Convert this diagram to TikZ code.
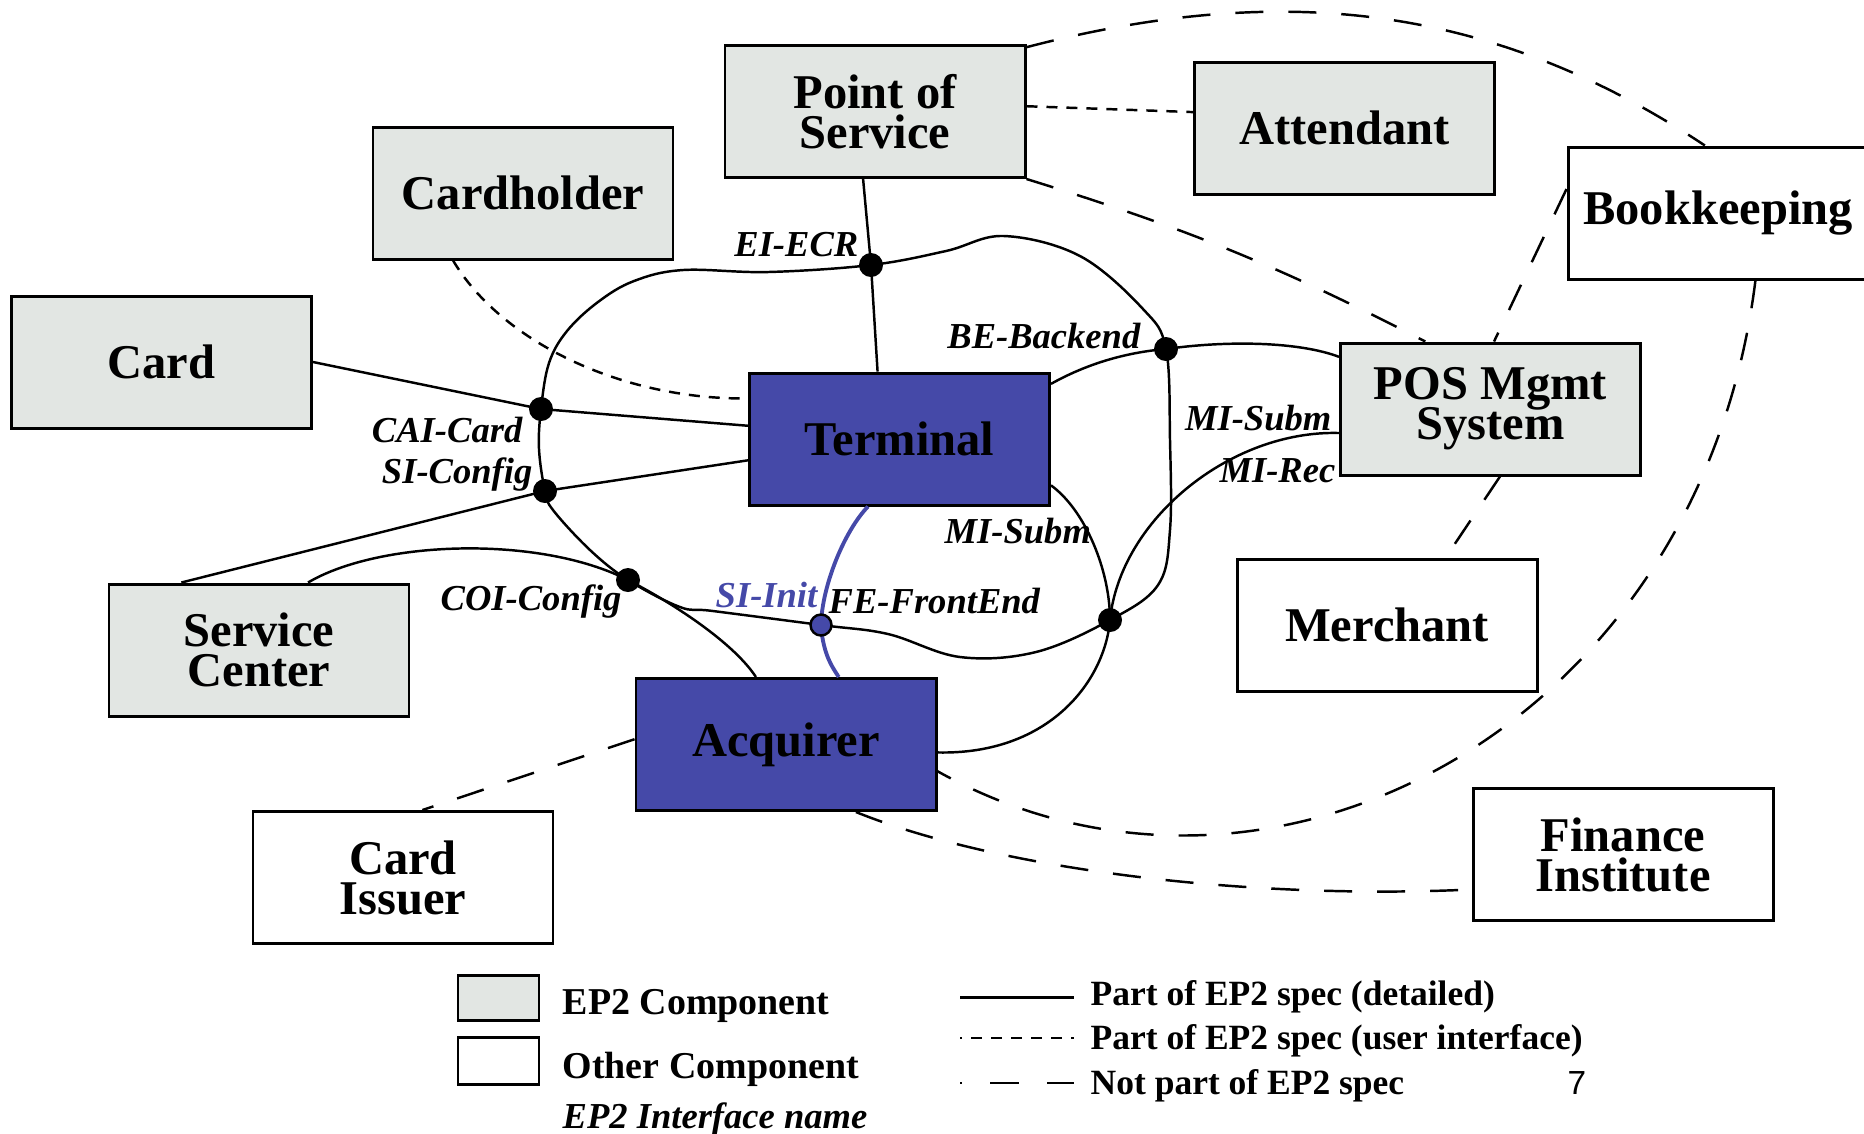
\documentclass[tikz,border=0pt]{standalone}
\usepackage{fontspec}
\setmainfont{Liberation Serif}
\setsansfont{Liberation Sans}
\setlength{\lineskiplimit}{-20pt}

\definecolor{epgray}{HTML}{E2E6E3}
\definecolor{epblue}{HTML}{4549A8}

\tikzset{
  comp/.style={draw=black, line width=0.85pt, minimum width=3cm, minimum height=1.32cm, inner sep=0pt, align=center,
    font=\fontsize{13.8}{11.4}\selectfont\bfseries},
  ep2box/.style={comp, fill=epgray},
  corebox/.style={comp, fill=epblue},
  otherbox/.style={comp, fill=white},
  iface/.style={circle, fill=black, inner sep=0pt, minimum size=0.24cm},
  initdot/.style={circle, fill=epblue, draw=black, line width=0.7pt, inner sep=0pt, minimum size=0.21cm},
  ifacelbl/.style={inner sep=0pt, font=\fontsize{10.4}{12}\selectfont\bfseries\itshape},
  legtxt/.style={inner sep=0pt, font=\fontsize{10.8}{12}\selectfont\bfseries},
  legrtxt/.style={inner sep=0pt, font=\fontsize{10.1}{12}\selectfont\bfseries},
  spec/.style={line width=0.7pt},
  initline/.style={line width=1.1pt, draw=epblue},
  userif/.style={line width=0.7pt, dash pattern=on 0.11cm off 0.09cm},
  notspec/.style={line width=0.7pt, dash pattern=on 0.28cm off 0.25cm},
}

\begin{document}
\begin{tikzpicture}
            \useasboundingbox (0,0) rectangle (18.64,-11.33);
            \node[ep2box] (pos) at (8.75,-1.115) {Point of\\Service};
            \node[ep2box] (att) at (13.445,-1.28) {Attendant};
            \node[ep2box] (chold) at (5.23,-1.93) {Cardholder};
            \node[otherbox] (book) at (17.18,-2.13) {Bookkeeping};
            \node[ep2box] (card) at (1.615,-3.62) {Card};
            \node[corebox] (term) at (8.995,-4.39) {Terminal};
            \node[ep2box] (posm) at (14.905,-4.09) {POS Mgmt\\System};
            \node[ep2box] (svc) at (2.59,-6.50) {Service\\Center};
            \node[otherbox] (merch) at (13.87,-6.25) {Merchant};
            \node[corebox] (acq) at (7.86,-7.445) {Acquirer};
            \node[otherbox] (iss) at (4.03,-8.775) {Card\\Issuer};
            \node[otherbox] (fin) at (16.23,-8.545) {Finance\\Institute};

            \coordinate (ei) at (8.71,-2.65);
            \coordinate (be) at (11.66,-3.49);
            \coordinate (cai) at (5.41,-4.09);
            \coordinate (sic) at (5.45,-4.91);
            \coordinate (coi) at (6.28,-5.80);
            \coordinate (sii) at (8.21,-6.25);
            \coordinate (fe) at (11.10,-6.20);

            \draw[spec] plot[smooth cycle, tension=0.6] coordinates {(ei) (9.46,-2.51) (10.04,-2.36) (10.80,-2.56) (11.43,-3.09) (be)
              (11.70,-4.40) (11.70,-5.30) (11.58,-5.85) (fe) (10.36,-6.52) (9.60,-6.57) (8.88,-6.34) (sii) (7.13,-6.11) (6.80,-6.07)
              (coi) (5.90,-5.50) (5.53,-5.10) (sic) (5.39,-4.49) (cai) (5.49,-3.63) (5.67,-3.31) (5.98,-3.02) (6.34,-2.81) (6.83,-2.70) (7.68,-2.72)};

            \draw[spec] (pos.-100) -- (ei) -- (term.108);
            \draw[spec] (card.east) -- (cai) -- (term.175);
            \draw[spec] (svc.139) -- (sic) -- (term.188);
            \draw[spec] (svc.54) .. controls (3.80,-5.40) and (5.40,-5.35) .. (coi) .. controls (6.80,-6.07) and (7.35,-6.45) .. (acq.114);
            \draw[initline] (term.-115) .. controls (8.45,-5.30) and (8.22,-5.85) .. (sii) .. controls (8.23,-6.55) and (8.33,-6.68) .. (acq.52);
            \draw[spec] (term.20) .. controls (10.90,-3.62) and (11.30,-3.52) .. (be) .. controls (12.30,-3.40) and (13.00,-3.42) .. (posm.161);
            \draw[spec] (term.-17) .. controls (10.85,-5.10) and (11.10,-5.70) .. (fe) .. controls (11.05,-6.80) and (10.50,-7.55) .. (acq.-3);
            \draw[spec] (posm.189) .. controls (12.30,-4.30) and (11.20,-5.20) .. (fe);

            \draw[userif] (pos.2) -- (att.174);
            \draw[userif] (chold.-136) .. controls (5.00,-3.40) and (6.20,-4.00) .. (term.165);
            \draw[notspec] (pos.23) .. controls (12.77,0.18) and (14.89,-0.02) .. (book.101);
            \draw[notspec] (pos.south east) to[bend left=5] (posm.134);
            \draw[notspec] (book.171) -- (posm.87);
            \draw[notspec] (posm.-82) -- (merch.49);
            \draw[notspec] (book.-61) .. controls (17.00,-7.27) and (12.68,-9.56) .. (acq.-10);
            \draw[notspec] (acq.-44) .. controls (10.00,-8.70) and (12.50,-9.00) .. (fin.193);
            \draw[notspec] (acq.178) -- (iss.74);

            \node[iface] (eidot) at (ei) {};
            \node[iface] (bedot) at (be) {};
            \node[iface] (caidot) at (cai) {};
            \node[iface] (sicdot) at (sic) {};
            \node[iface] (coidot) at (coi) {};
            \node[iface] (fedot) at (fe) {};
            \node[initdot] (siidot) at (sii) {};

            \node[ifacelbl, anchor=base east] (eilbl) at (8.59,-2.56) {EI-ECR};
            \node[ifacelbl, anchor=base east] (belbl) at (11.41,-3.48) {BE-Backend};
            \node[ifacelbl, anchor=base east] (cailbl) at (5.23,-4.42) {CAI-Card};
            \node[ifacelbl, anchor=base east] (siclbl) at (5.33,-4.83) {SI-Config};
            \node[ifacelbl, anchor=base west] (coilbl) at (4.40,-6.10) {COI-Config};
            \node[ifacelbl, anchor=base east, text=epblue] (siilbl) at (8.18,-6.07) {SI-Init};
            \node[ifacelbl, anchor=base west] (felbl) at (8.28,-6.13) {FE-FrontEnd};
            \node[ifacelbl, anchor=base west] (mislbl) at (9.44,-5.43) {MI-Subm};
            \node[ifacelbl, anchor=base east] (mipslbl) at (13.32,-4.30) {MI-Subm};
            \node[ifacelbl, anchor=base east] (mirlbl) at (13.36,-4.82) {MI-Rec};

            \node[ep2box, minimum width=0.81cm, minimum height=0.45cm] (lgep2) at (4.985,-9.975) {};
            \node[otherbox, minimum width=0.81cm, minimum height=0.47cm] (lgother) at (4.985,-10.605) {};
            \node[legtxt, anchor=base west] (lgep2txt) at (5.62,-10.145) {EP2 Component};
            \node[legtxt, anchor=base west] (lgothertxt) at (5.62,-10.78) {Other Component};
            \node[ifacelbl, anchor=base west] (lgiftxt) at (5.62,-11.28) {EP2 Interface name};

            \coordinate (lga) at (9.60,-9.975);
            \coordinate (lgb) at (10.74,-9.975);
            \coordinate (lgc) at (9.60,-10.38);
            \coordinate (lgd) at (10.74,-10.38);
            \coordinate (lge) at (9.60,-10.83);
            \coordinate (lgf) at (10.74,-10.83);
            \draw[spec] (lga) -- (lgb);
            \draw[userif, dash phase=0.09cm] (lgc) -- (lgd);
            \draw[notspec, dash pattern=on 0.29cm off 0.28cm, dash phase=0.27cm] (lge) -- (lgf);
            \node[legrtxt, anchor=base west] (lgspec) at (10.90,-10.05) {Part of EP2 spec (detailed)};
            \node[legrtxt, anchor=base west] (lguser) at (10.90,-10.49) {Part of EP2 spec (user interface)};
            \node[legrtxt, anchor=base west] (lgnot) at (10.90,-10.94) {Not part of EP2 spec};
            \node[inner sep=0pt, anchor=base, font=\sffamily\fontsize{9.5}{11}\selectfont] (pgno) at (15.77,-10.94) {7};
\end{tikzpicture}
\end{document}
